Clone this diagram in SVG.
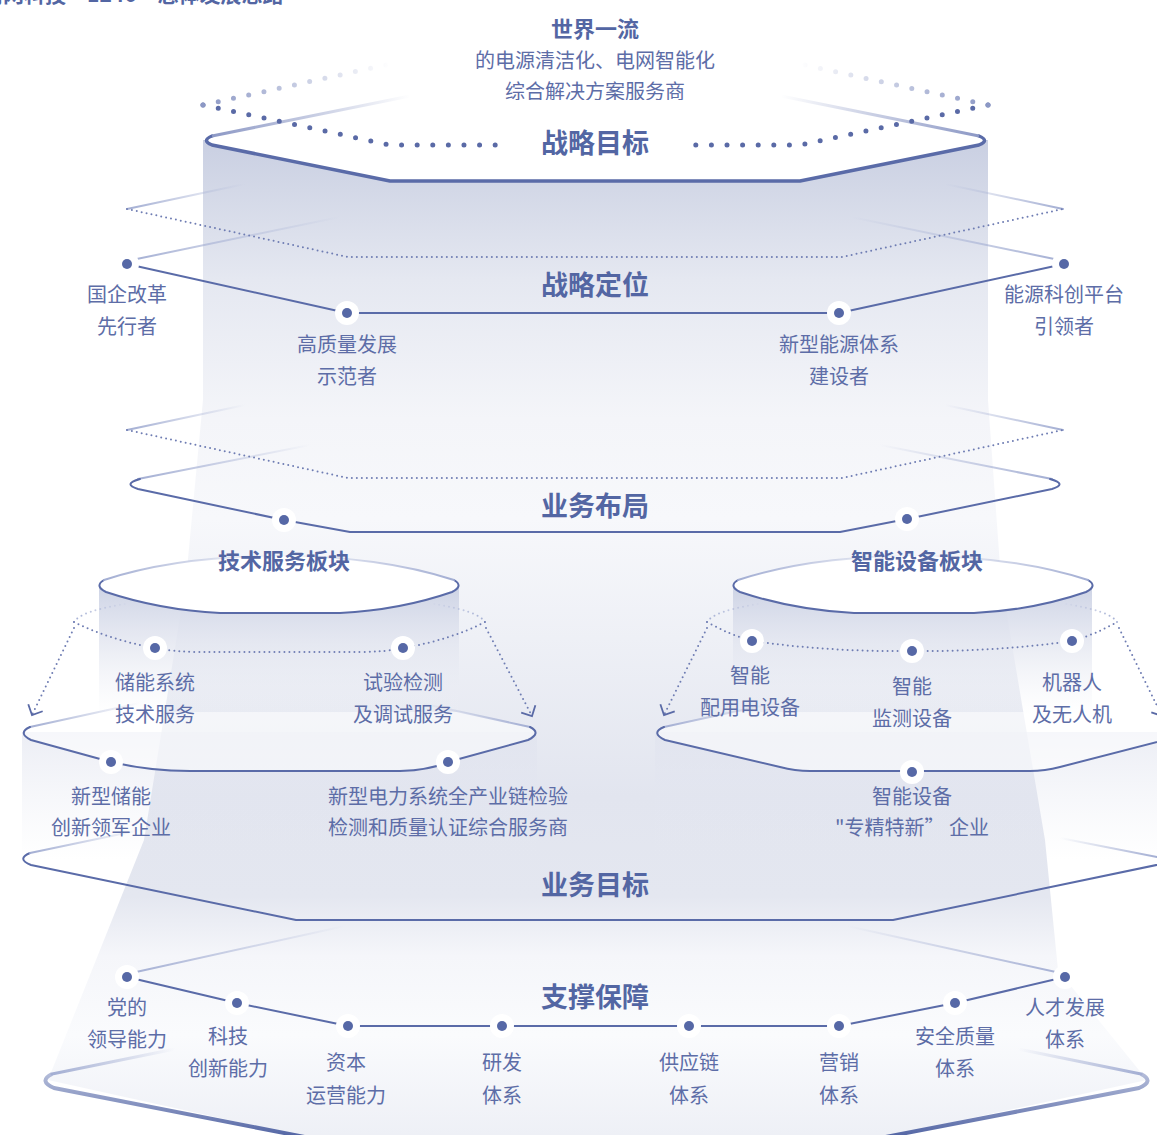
<svg xmlns="http://www.w3.org/2000/svg" width="1157" height="1135" viewBox="0 0 1157 1135">
<style>
text{font-family:"Noto Sans CJK SC","Noto Sans",sans-serif;fill:#5d6da7;text-anchor:middle}
.lbl{font-size:20px}
.ttl{font-size:27px;font-weight:700;fill:#5366a3}
.sub{font-size:22px;font-weight:700;fill:#5366a3}
.head{font-size:22px;font-weight:700;fill:#5366a3}
.dot{fill:#5668a6}
.halo{fill:#fff}
.edge{fill:none;stroke:#5a6ba8;stroke-width:2;stroke-linejoin:round;stroke-linecap:round}
.thick{stroke-width:3.5}
.dsm{fill:none;stroke:#6f7db3;stroke-width:2;stroke-dasharray:0 5;stroke-linecap:round}
.dbig{fill:none;stroke:#5a6aa6;stroke-width:5;stroke-dasharray:0 15.6;stroke-linecap:round}
.back{fill:none;stroke:url(#fR);stroke-width:2;stroke-linecap:round}
.backL{fill:none;stroke:url(#fL);stroke-width:2;stroke-linecap:round}
.face{fill:#fff}
</style>
<defs>
<linearGradient id="fR" x1="0" y1="0" x2="1" y2="0"><stop offset="0" stop-color="#a3aed3"/><stop offset="1" stop-color="#a3aed3" stop-opacity="0"/></linearGradient>
<linearGradient id="fL" x1="1" y1="0" x2="0" y2="0"><stop offset="0" stop-color="#a3aed3"/><stop offset="1" stop-color="#a3aed3" stop-opacity="0"/></linearGradient>
<linearGradient id="fRd" x1="0" y1="0" x2="1" y2="0"><stop offset="0" stop-color="#8c98c5"/><stop offset="1" stop-color="#8c98c5" stop-opacity="0"/></linearGradient>
<linearGradient id="fLd" x1="1" y1="0" x2="0" y2="0"><stop offset="0" stop-color="#8c98c5"/><stop offset="1" stop-color="#8c98c5" stop-opacity="0"/></linearGradient>
<linearGradient id="beam" gradientUnits="userSpaceOnUse" x1="0" y1="140" x2="0" y2="1135">
<stop offset="0" stop-color="#c9cfe2"/>
<stop offset="0.05" stop-color="#d3d8e7"/>
<stop offset="0.14" stop-color="#e5e8f1"/>
<stop offset="0.28" stop-color="#f4f5f9"/>
<stop offset="0.38" stop-color="#f7f8fb"/>
<stop offset="0.5" stop-color="#eef0f6"/>
<stop offset="0.66" stop-color="#e2e5ef"/>
<stop offset="0.76" stop-color="#e4e7f0"/>
<stop offset="0.82" stop-color="#f5f6fa"/>
<stop offset="0.9" stop-color="#fafbfd"/>
<stop offset="1" stop-color="#eef0f6"/>
</linearGradient>
<linearGradient id="col" x1="0" y1="0" x2="0" y2="1"><stop offset="0" stop-color="#cdd3e5"/><stop offset="0.45" stop-color="#e3e6f0" stop-opacity="0.8"/><stop offset="1" stop-color="#eef0f6" stop-opacity="0"/></linearGradient>
<linearGradient id="col2" x1="0" y1="0" x2="0" y2="1"><stop offset="0" stop-color="#dfe2ee"/><stop offset="1" stop-color="#e6e9f2" stop-opacity="0"/></linearGradient>
<linearGradient id="btm" gradientUnits="userSpaceOnUse" x1="0" y1="1070" x2="0" y2="1135"><stop offset="0" stop-color="#b9c1dc"/><stop offset="1" stop-color="#5668a6"/></linearGradient>
<marker id="chev" viewBox="-10 -10 20 20" refX="0" refY="0" markerWidth="20" markerHeight="20" markerUnits="userSpaceOnUse" orient="auto"><path d="M -8,-8 L 0,0 L -8,8" fill="none" stroke="#5a6aa6" stroke-width="1.8"/></marker>
</defs>

<rect width="1157" height="1135" fill="#fff"/>

<g id="background">
<path d="M 203,140 L 988,140 L 988,400 L 1001,580 L 1045,840 L 1058,970 L 1147,1080 L 870,1140 L 320,1140 L 48,1080 L 144,840 L 186,580 L 203,400 Z" fill="url(#beam)"/>
<text x="-18" y="2" style="font-size:21px;font-weight:700;text-anchor:start;fill:#5366a3">南网科技“1246”总体发展思路</text>
</g>

<g id="strategic-goal">
<text class="head" x="595" y="37">世界一流</text>
<text class="lbl" x="595" y="68">的电源清洁化、电网智能化</text>
<text class="lbl" x="595" y="99">综合解决方案服务商</text>
<path class="face" d="M 212,136 L 390,100 L 800,100 L 979,136 Q 990,140.5 979,145 L 800,181 L 390,181 L 212,145 Q 201,140.5 212,136 Z"/>
<path class="edge thick" d="M 212,136 Q 201,140.5 212,145 L 390,181 L 800,181 L 979,145 Q 990,140.5 979,136"/>
<path fill="none" stroke="url(#fRd)" stroke-width="3" d="M 212,136 L 410,96"/>
<path fill="none" stroke="url(#fLd)" stroke-width="3" d="M 979,136 L 781,96"/>
<path class="dbig" d="M 203,105 L 390,145 L 508,145"/>
<path class="dbig" d="M 988,105 L 800,145 L 682,145"/>
<path class="dbig" style="stroke:url(#fRd)" d="M 203,105 L 390,64"/>
<path class="dbig" style="stroke:url(#fLd)" d="M 988,105 L 800,64"/>
<text class="ttl" x="595" y="153">战略目标</text>
</g>

<g id="strategic-position-plate">
<path class="back" d="M 127,209 L 245,184"/>
<path class="backL" d="M 1063,209 L 945,184"/>
<path class="back" d="M 127,261 L 340,217"/>
<path class="backL" d="M 1064,261 L 851,217"/>
<text class="ttl" x="595" y="295">战略定位</text>
</g>

<g id="business-layout-plate">
<path class="back" d="M 127,430 L 245,405"/>
<path class="backL" d="M 1063,430 L 945,405"/>
<path class="back" d="M 138,479 L 310,445"/>
<path class="backL" d="M 1052,479 L 880,445"/>
<text class="ttl" x="595" y="516">业务布局</text>
</g>

<g id="tech-plate">
<path d="M 22,732 L 537,732 L 537,860 L 22,860 Z" fill="url(#col2)" opacity="0.6"/>
<path d="M 30,727 Q 17,733 31,740 L 111,762 Q 150,771 190,771 L 400,771 Q 430,770 448,762 L 528,740 Q 542,733 530,727 L 460,712 L 100,712 Z" fill="#fff" opacity="0.55"/>
<path class="back" d="M 30,727 L 140,703"/>
<path class="backL" d="M 530,727 L 420,703"/>
<rect x="99" y="585" width="360" height="130" fill="url(#col)"/>
<path class="face" d="M 104,580 Q 94,586 106,592 Q 160,610 220,613 L 340,613 Q 400,610 452,592 Q 464,586 454,580 Q 380,556 279,556 Q 178,556 104,580 Z"/>
<path class="edge" d="M 104,580 Q 94,586 106,592 Q 160,610 220,613 L 340,613 Q 400,610 452,592 Q 464,586 454,580"/>
<path class="back" d="M 104,580 Q 178,556 279,556"/>
<path class="backL" d="M 454,580 Q 380,556 279,556"/>
<path class="dsm" style="stroke:url(#fR)" d="M 74,622 Q 80,611 130,603"/>
<path class="dsm" style="stroke:url(#fL)" d="M 485,622 Q 479,611 429,603"/>
<text class="sub" x="284" y="569">技术服务板块</text>
</g>

<g id="device-plate">
<path d="M 655,732 L 1157,732 L 1157,860 L 655,860 Z" fill="url(#col2)" opacity="0.6"/>
<path d="M 664,727 Q 650,733 665,740 L 780,767 Q 795,771 810,771 L 1030,771 Q 1045,771 1060,767 L 1180,736 L 1100,712 L 730,712 Z" fill="#fff" opacity="0.55"/>
<path class="back" d="M 664,727 L 774,703"/>
<rect x="733" y="585" width="359" height="130" fill="url(#col)"/>
<path class="face" d="M 738,580 Q 728,586 740,592 Q 794,610 854,613 L 974,613 Q 1034,610 1086,592 Q 1098,586 1088,580 Q 1014,556 913,556 Q 812,556 738,580 Z"/>
<path class="edge" d="M 738,580 Q 728,586 740,592 Q 794,610 854,613 L 974,613 Q 1034,610 1086,592 Q 1098,586 1088,580"/>
<path class="back" d="M 738,580 Q 812,556 913,556"/>
<path class="backL" d="M 1088,580 Q 1014,556 913,556"/>
<path class="dsm" style="stroke:url(#fR)" d="M 707,622 Q 713,611 763,603"/>
<path class="dsm" style="stroke:url(#fL)" d="M 1117,622 Q 1111,611 1061,603"/>
<text class="sub" x="917" y="569">智能设备板块</text>
</g>

<g id="business-goal-plate">
<path class="edge" d="M 30,853 Q 16,859 31,865 L 296,920 L 893,920 L 1190,858"/>
<path class="back" d="M 30,853 L 140,830"/>
<path class="back" style="stroke:url(#fL)" d="M 1060,838 L 1157,857"/>
<text class="ttl" x="595" y="895">业务目标</text>
</g>

<g id="support-plate">
<path class="back" d="M 127,974 L 345,926"/>
<path class="backL" d="M 1065,974 L 847,926"/>
<path fill="none" stroke="url(#btm)" stroke-width="4" stroke-linejoin="round" d="M 52,1074 Q 38,1081 54,1088 L 320,1140 L 870,1140 L 1139,1088 Q 1155,1081 1141,1074"/>
<path class="back" style="stroke-width:3" d="M 52,1074 L 175,1049"/>
<path class="backL" style="stroke-width:3" d="M 1141,1074 L 1018,1049"/>
<text class="ttl" x="595" y="1007">支撑保障</text>
</g>

<g id="connectors">
<path class="dsm" d="M 127,209 L 348,257 L 842,257 L 1063,209"/>
<path class="edge" d="M 127,264 L 347,313 L 839,313 L 1064,264"/>
<path class="dsm" d="M 127,430 L 348,478 L 842,478 L 1063,430"/>
<path class="edge" d="M 140,479 Q 122,484 138,489 L 284,520 L 350,532 L 840,532 L 907,519 L 1052,489 Q 1068,484 1050,479"/>
<path class="dsm" d="M 74,622 Q 110,640 155,648 Q 175,652 200,652 L 360,652 Q 385,652 403,648 Q 450,640 485,622"/>
<path class="dsm" marker-end="url(#chev)" d="M 74,628 L 32,715"/>
<path class="dsm" marker-end="url(#chev)" d="M 486,628 L 532,716"/>
<path class="edge" d="M 30,727 Q 17,733 31,740 L 111,762 Q 150,771 190,771 L 400,771 Q 430,770 448,762 L 528,740 Q 542,733 530,727"/>
<path class="dsm" d="M 707,622 Q 730,635 752,641 Q 830,652 912,651 Q 994,652 1072,641 Q 1094,635 1117,622"/>
<path class="dsm" marker-end="url(#chev)" d="M 707,628 L 664,715"/>
<path class="dsm" marker-end="url(#chev)" d="M 1119,628 L 1162,716"/>
<path class="edge" d="M 664,727 Q 650,733 665,740 L 780,767 Q 795,771 810,771 L 1030,771 Q 1045,771 1060,767 L 1180,736"/>
<path class="edge" d="M 127,977 L 237,1003 L 348,1026 L 839,1026 L 955,1003 L 1065,977"/>
</g>

<g id="n-soe"><circle class="halo" cx="127" cy="264" r="12"/><circle class="dot" cx="127" cy="264" r="5"/><text class="lbl" x="127" y="302">国企改革</text><text class="lbl" x="127" y="334">先行者</text></g>
<g id="n-quality"><circle class="halo" cx="347" cy="313" r="12"/><circle class="dot" cx="347" cy="313" r="5"/><text class="lbl" x="347" y="352">高质量发展</text><text class="lbl" x="347" y="384">示范者</text></g>
<g id="n-newenergy"><circle class="halo" cx="839" cy="313" r="12"/><circle class="dot" cx="839" cy="313" r="5"/><text class="lbl" x="839" y="352">新型能源体系</text><text class="lbl" x="839" y="384">建设者</text></g>
<g id="n-platform"><circle class="halo" cx="1064" cy="264" r="12"/><circle class="dot" cx="1064" cy="264" r="5"/><text class="lbl" x="1064" y="302">能源科创平台</text><text class="lbl" x="1064" y="334">引领者</text></g>

<g id="n-tech-seg"><circle class="halo" cx="284" cy="520" r="12"/><circle class="dot" cx="284" cy="520" r="5"/></g>
<g id="n-device-seg"><circle class="halo" cx="907" cy="519" r="12"/><circle class="dot" cx="907" cy="519" r="5"/></g>

<g id="n-storage"><circle class="halo" cx="155" cy="648" r="12"/><circle class="dot" cx="155" cy="648" r="5"/><text class="lbl" x="155" y="690">储能系统</text><text class="lbl" x="155" y="722">技术服务</text></g>
<g id="n-testing"><circle class="halo" cx="403" cy="648" r="12"/><circle class="dot" cx="403" cy="648" r="5"/><text class="lbl" x="403" y="690">试验检测</text><text class="lbl" x="403" y="722">及调试服务</text></g>
<g id="n-storage-goal"><circle class="halo" cx="111" cy="762" r="12"/><circle class="dot" cx="111" cy="762" r="5"/><text class="lbl" x="111" y="804">新型储能</text><text class="lbl" x="111" y="835">创新领军企业</text></g>
<g id="n-testing-goal"><circle class="halo" cx="448" cy="762" r="12"/><circle class="dot" cx="448" cy="762" r="5"/><text class="lbl" x="448" y="804">新型电力系统全产业链检验</text><text class="lbl" x="448" y="835">检测和质量认证综合服务商</text></g>

<g id="n-distribution"><circle class="halo" cx="752" cy="641" r="12"/><circle class="dot" cx="752" cy="641" r="5"/><text class="lbl" x="750" y="683">智能</text><text class="lbl" x="750" y="715">配用电设备</text></g>
<g id="n-monitoring"><circle class="halo" cx="912" cy="651" r="12"/><circle class="dot" cx="912" cy="651" r="5"/><text class="lbl" x="912" y="694">智能</text><text class="lbl" x="912" y="726">监测设备</text></g>
<g id="n-robot"><circle class="halo" cx="1072" cy="641" r="12"/><circle class="dot" cx="1072" cy="641" r="5"/><text class="lbl" x="1072" y="690">机器人</text><text class="lbl" x="1072" y="722">及无人机</text></g>
<g id="n-device-goal"><circle class="halo" cx="912" cy="772" r="12"/><circle class="dot" cx="912" cy="772" r="5"/><text class="lbl" x="912" y="804">智能设备</text><text class="lbl" x="912" y="835">"专精特新” 企业</text></g>

<g id="n-party"><circle class="halo" cx="127" cy="977" r="12"/><circle class="dot" cx="127" cy="977" r="5"/><text class="lbl" x="127" y="1015">党的</text><text class="lbl" x="127" y="1047">领导能力</text></g>
<g id="n-innovation"><circle class="halo" cx="237" cy="1003" r="12"/><circle class="dot" cx="237" cy="1003" r="5"/><text class="lbl" x="228" y="1044">科技</text><text class="lbl" x="228" y="1076">创新能力</text></g>
<g id="n-capital"><circle class="halo" cx="348" cy="1026" r="12"/><circle class="dot" cx="348" cy="1026" r="5"/><text class="lbl" x="346" y="1070">资本</text><text class="lbl" x="346" y="1103">运营能力</text></g>
<g id="n-rd"><circle class="halo" cx="502" cy="1026" r="12"/><circle class="dot" cx="502" cy="1026" r="5"/><text class="lbl" x="502" y="1070">研发</text><text class="lbl" x="502" y="1103">体系</text></g>
<g id="n-supply"><circle class="halo" cx="689" cy="1026" r="12"/><circle class="dot" cx="689" cy="1026" r="5"/><text class="lbl" x="689" y="1070">供应链</text><text class="lbl" x="689" y="1103">体系</text></g>
<g id="n-marketing"><circle class="halo" cx="839" cy="1026" r="12"/><circle class="dot" cx="839" cy="1026" r="5"/><text class="lbl" x="839" y="1070">营销</text><text class="lbl" x="839" y="1103">体系</text></g>
<g id="n-safety"><circle class="halo" cx="955" cy="1003" r="12"/><circle class="dot" cx="955" cy="1003" r="5"/><text class="lbl" x="955" y="1044">安全质量</text><text class="lbl" x="955" y="1076">体系</text></g>
<g id="n-talent"><circle class="halo" cx="1065" cy="977" r="12"/><circle class="dot" cx="1065" cy="977" r="5"/><text class="lbl" x="1065" y="1015">人才发展</text><text class="lbl" x="1065" y="1047">体系</text></g>
</svg>
